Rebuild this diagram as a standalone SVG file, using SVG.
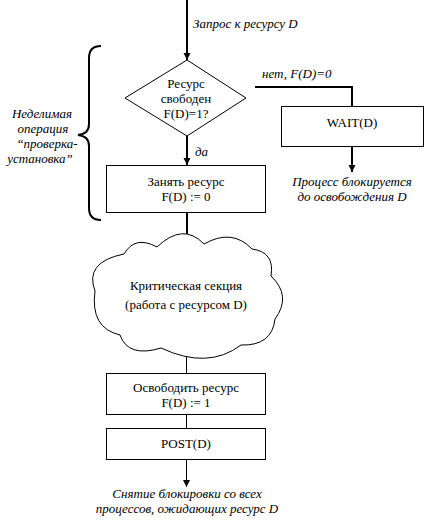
<svg xmlns="http://www.w3.org/2000/svg" width="425" height="521" viewBox="0 0 425 521">
<defs>
<marker id="arr" markerUnits="userSpaceOnUse" markerWidth="8" markerHeight="8" refX="7" refY="3.5" orient="auto">
<path d="M0,0 L7,3.5 L0,7 Z" fill="#000"/>
</marker>
<style>
text{font-size:13px;fill:#000}
.c{text-anchor:middle}
.i{font-style:italic}
.box{fill:#fff;stroke:#000;stroke-width:1}
.thick{fill:none;stroke:#000;stroke-width:2}
.thin{fill:none;stroke:#000;stroke-width:1}
</style>
</defs>
<rect width="425" height="521" fill="#fff"/>
<g font-family="'Liberation Serif', 'Times New Roman', 'DejaVu Serif', serif">
<g id="connectors">
<line class="thick" x1="187" y1="0" x2="187" y2="60" marker-end="url(#arr)"/>
<polyline class="thick" points="255,87 352,87 352,106"/>
<line class="thick" x1="187" y1="136" x2="187" y2="165" marker-end="url(#arr)"/>
<line class="thick" x1="352" y1="147" x2="352" y2="172" marker-end="url(#arr)"/>
<line class="thick" x1="187" y1="213" x2="187" y2="234"/>
<line class="thin" x1="186.5" y1="355" x2="186.5" y2="373"/>
<line class="thin" x1="186.5" y1="415" x2="186.5" y2="428"/>
<line class="thin" x1="186.5" y1="460" x2="186.5" y2="487" marker-end="url(#arr)"/>
</g>
<g id="labels">
<text class="i" x="193" y="28">Запрос к ресурсу D</text>
<text class="i" x="262" y="78">нет, F(D)=0</text>
<text class="i" x="195" y="156">да</text>
</g>
<g id="brace">
<path class="thick" d="M101,46 Q89,46 89,58 L89,124 Q89,134 78,135 Q89,136 89,146 L89,208 Q89,220 101,220"/>
<text class="i c" x="42" y="118">Неделимая</text>
<text class="i c" x="43" y="133">операция</text>
<text class="i c" x="47" y="148">“проверка-</text>
<text class="i c" x="40" y="163">установка”</text>
</g>
<g id="decision">
<polygon class="box" points="187,60 246,98 187,136 125,98"/>
<text class="c" x="186" y="88">Ресурс</text>
<text class="c" x="186" y="103">свободен</text>
<text class="c" x="186" y="118">F(D)=1?</text>
</g>
<g id="wait">
<rect class="box" x="281.5" y="106.5" width="142" height="40"/>
<text class="c" x="352" y="127">WAIT(D)</text>
<text class="i c" x="352" y="186">Процесс блокируется</text>
<text class="i c" x="352" y="201">до освобождения D</text>
</g>
<g id="take">
<rect class="box" x="106.5" y="165.5" width="159" height="47"/>
<text class="c" x="186" y="186">Занять ресурс</text>
<text class="c" x="186" y="201">F(D) := 0</text>
</g>
<g id="critical">
<path class="box" d="M157,247 Q183,222 204,244 Q232,228 252,249 Q275,252 271,276 Q292,296 275,319 Q272,346 241,345 Q208,370 161,348 Q128,358 120,335 Q90,328 95,291 Q84,262 124,254 Q135,235 157,247 Z"/>
<text class="c" x="186" y="290">Критическая секция</text>
<text class="c" x="186" y="309">(работа с ресурсом D)</text>
</g>
<g id="release">
<rect class="box" x="106.5" y="373.5" width="159" height="41"/>
<text class="c" x="186" y="392">Освободить ресурс</text>
<text class="c" x="186" y="407">F(D) := 1</text>
</g>
<g id="post">
<rect class="box" x="106.5" y="428.5" width="159" height="31"/>
<text class="c" x="186" y="448">POST(D)</text>
</g>
<g id="result">
<text class="i c" x="187" y="498">Снятие блокировки со всех</text>
<text class="i c" x="187" y="513">процессов, ожидающих ресурс D</text>
</g>
</g>
</svg>
